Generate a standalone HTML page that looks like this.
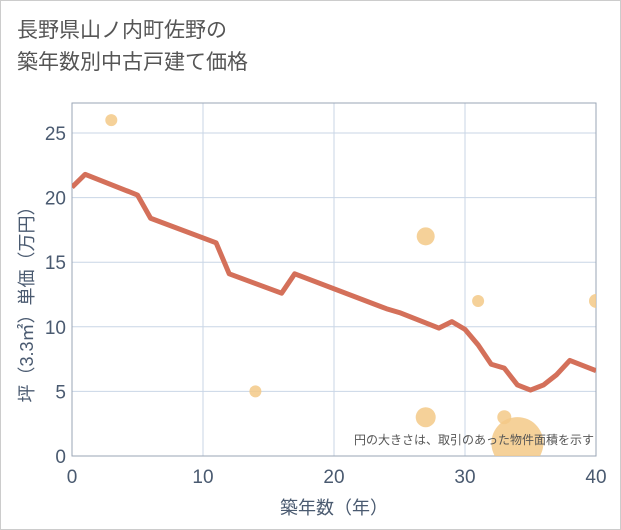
<!DOCTYPE html>
<html><head><meta charset="utf-8"><style>
body{margin:0;background:#fff;}
#wrap{position:relative;width:619px;height:528px;border:1px solid #ccc;background:#fff;font-family:"Liberation Sans","Noto Sans CJK JP",sans-serif;}
#title{position:absolute;left:16px;top:14px;font-size:21px;line-height:32px;color:#555;}
</style></head><body>
<div id="wrap">
<div id="title">長野県山ノ内町佐野の<br>築年数別中古戸建て価格</div>
<svg id="chart" width="621" height="530" style="position:absolute;left:-1px;top:-1px"></svg>
</div>
<script>
const lineX=[0,1,5,6,11,12,16,17,24,25,28,29,30,31,32,33,34,35,36,37,38,39,40];
const lineY=[20.8,21.8,20.2,18.4,16.5,14.1,12.6,14.1,11.4,11.1,9.9,10.4,9.8,8.6,7.1,6.8,5.5,5.1,5.5,6.3,7.4,7.0,6.6];
const bubX=[3,14,27,27,31,33,34,40];
const bubY=[26,5,17,3,12,3,1,12];
const bubR=[6,6,9,10,6,7,26,7];
const xTicks=[0,10,20,30,40];
const yTicks=[0,5,10,15,20,25];
const L=72,R=596,T=103,B=456;
const xs=v=>L+v/40*(R-L);
const ys=v=>B-v*(B-133)/25;
const svg=document.getElementById('chart');
const NS='http://www.w3.org/2000/svg';
function mk(t,a,p){const e=document.createElementNS(NS,t);for(const k in a)e.setAttribute(k,a[k]);(p||svg).appendChild(e);return e;}
const clip=mk('clipPath',{id:'pc'});mk('rect',{x:L,y:T,width:R-L,height:B-T},clip);
yTicks.forEach(v=>{const g=mk('line',{x1:L,x2:R,y1:ys(v),y2:ys(v),stroke:'#c9d6e6','stroke-width':1});

const t=mk('text',{x:L-6,y:ys(v)+7,'text-anchor':'end','font-size':19,fill:'#4a5a70'});t.textContent=v;
});
xTicks.forEach(v=>{const g=mk('line',{x1:xs(v),x2:xs(v),y1:T,y2:B,stroke:'#c9d6e6','stroke-width':1});

const t=mk('text',{x:xs(v),y:B+27,'text-anchor':'middle','font-size':19,fill:'#4a5a70'});t.textContent=v;
});
const fr=mk('rect',{x:L,y:T,width:R-L,height:B-T,fill:'none',stroke:'#9aa6b6','stroke-width':1});

const bg=mk('g',{'clip-path':'url(#pc)'});
bubX.forEach((x,i)=>{const c=mk('circle',{cx:xs(x),cy:ys(bubY[i]),r:bubR[i],fill:'#f3c987','fill-opacity':0.85},bg);
});
const ln=mk('polyline',{points:lineX.map((x,i)=>xs(x)+','+ys(lineY[i])).join(' '),fill:'none',stroke:'#d4705a','stroke-width':5,'stroke-linejoin':'round'},bg);

const n=mk('text',{x:594,y:444,'text-anchor':'end','font-size':12,fill:'#555'});n.textContent='円の大きさは、取引のあった物件面積を示す';

const xt=mk('text',{x:(L+R)/2,y:514,'text-anchor':'middle','font-size':18,fill:'#4a5a70'});xt.textContent='築年数（年）';

const yt=mk('text',{x:0,y:0,'text-anchor':'middle','font-size':18,fill:'#4a5a70',transform:'translate(33,300) rotate(-90)'});yt.textContent='坪（3.3㎡）単価（万円）';

</script>
</body></html>
